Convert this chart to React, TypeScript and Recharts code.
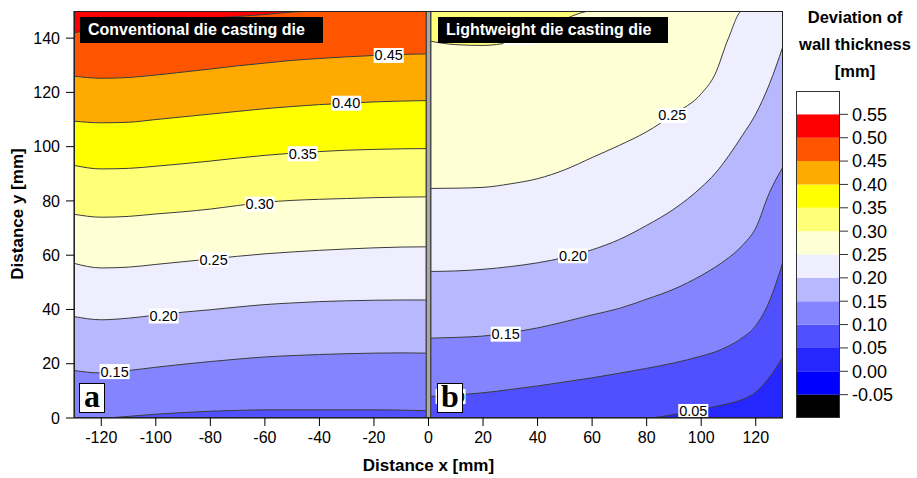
import React from 'react';
import {
    ComposedChart,
    Area,
    XAxis,
    YAxis,
    Scatter,
    ReferenceLine,
    Label,
    BarChart,
    Bar,
} from 'recharts';

// Panel a (conventional die): contour lines y(x) for each level, x = -130..0
const xA = [-130, -120, -110, -100, -90, -80, -70, -60, -50, -40, -30, -20, -10, 0];
const a50 = [142, 143.5, 144.5, 145.5, 146.5, 147.3, 148, 148.7, 149.6, 150, 150, 150, 150, 150];
const a45 = [126, 125.2, 125.5, 126.4, 127.5, 128.6, 129.8, 130.8, 131.8, 132.5, 133.1, 133.6, 134, 134.2];
const a40 = [109.4, 108.8, 109, 110, 111, 112, 113, 114, 114.8, 115.5, 116, 116.5, 116.8, 117];
const a35 = [93.1, 91.8, 92, 92.8, 93.7, 94.7, 95.8, 96.8, 97.6, 98.2, 98.7, 99, 99.2, 99.3];
const a30 = [75.1, 74, 74.3, 75.2, 76, 77, 78.3, 79.5, 80.2, 80.6, 80.9, 81.2, 81.4, 81.5];
const a25 = [57, 55.3, 55.6, 56.6, 57.6, 58.6, 59.6, 60.5, 61.2, 61.8, 62.3, 62.7, 63, 63.1];
const a20 = [37.4, 36.2, 36.8, 37.9, 39, 39.9, 40.9, 41.8, 42.4, 42.9, 43.2, 43.4, 43.5, 43.5];
const a15 = [17.5, 16.6, 17.5, 18.7, 19.8, 20.8, 21.7, 22.5, 23, 23.4, 23.7, 23.9, 24, 23.9];
const a10 = [0, 0, 0.6, 1.4, 2, 2.5, 2.8, 3, 3, 3, 3, 3, 2.9, 2.7];

// Panel b (lightweight die): x = 0..130
const xB = [0, 10, 20, 30, 40, 50, 60, 70, 80, 90, 100, 105, 110, 115, 120, 125, 130];
const b30 = [139, 137.6, 137.3, 138.5, 141.5, 147, 150, 150, 150, 150, 150, 150, 150, 150, 150, 150, 150];
const b25 = [84.6, 84.7, 85, 86.3, 88.2, 91.5, 96, 100.5, 105.5, 112, 119.5, 126.5, 140, 150, 150, 150, 150];
const b20 = [54, 54.2, 54.8, 55.8, 57.2, 59.2, 62, 65.8, 71, 77, 85, 90, 96.5, 104, 112, 123, 137];
const b15 = [29.4, 29.7, 30.2, 31.5, 33.2, 35.5, 38, 40.4, 43.8, 47.5, 52.5, 55.5, 59, 63.5, 70, 83, 92.5];
const b10 = [7.9, 8.5, 9.3, 10.5, 11.8, 13.3, 14.8, 16.5, 18.3, 20.3, 22.8, 24.3, 26.5, 29.5, 34, 43, 57.6];
const b05 = [0, 0, 0, 0, 0, 0, 0, 0, 0, 1.3, 3, 4.2, 5.3, 6.8, 9.5, 15, 22.6];

const yMax = 150;

// contour labels
const contourLabels = [
    { x: -14.6, y: 133.6, text: '0.45' },
    { x: -30.2, y: 116, text: '0.40' },
    { x: -46.1, y: 97.4, text: '0.35' },
    { x: -61.9, y: 78.8, text: '0.30' },
    { x: -78.8, y: 58.4, text: '0.25' },
    { x: -97.1, y: 37.6, text: '0.20' },
    { x: -115.1, y: 17.1, text: '0.15' },
    { x: 33, y: 140.3, text: '0.30' },
    { x: 89.4, y: 111.5, text: '0.25' },
    { x: 53, y: 59.8, text: '0.20' },
    { x: 28.3, y: 30.9, text: '0.15' },
    { x: 8.1, y: 7.9, text: '0.10' },
    { x: 97.1, y: 2.4, text: '0.05' },
];

// colour scale: band edges and fills, bottom to top
const cbEdges = [-0.1, -0.05, 0, 0.05, 0.1, 0.15, 0.2, 0.25, 0.3, 0.35, 0.4, 0.45, 0.5, 0.55, 0.6];
const cbColors = [
    '#000000', '#0000ff', '#2626ff', '#5050ff', '#8484ff', '#b8b8ff', '#eeeeff',
    '#ffffd5', '#ffff78', '#ffff00', '#ffaa00', '#ff5500', '#ff0000', '#ffffff',
];
const cbTicks = [-0.05, 0, 0.05, 0.1, 0.15, 0.2, 0.25, 0.3, 0.35, 0.4, 0.45, 0.5, 0.55];

const xTicks = [-120, -100, -80, -60, -40, -20, 0, 20, 40, 60, 80, 100, 120];
const yTicks = [0, 20, 40, 60, 80, 100, 120, 140];

// band colour below each contour (value just under the level)
function bandColor(level: number): string {
    const i = cbEdges.findIndex((e) => Math.abs(e - level) < 1e-6);
    return cbColors[i - 1];
}

const seriesA: { key: string; ys: number[]; level: number }[] = [
    { key: 'a50', ys: a50, level: 0.5 },
    { key: 'a45', ys: a45, level: 0.45 },
    { key: 'a40', ys: a40, level: 0.4 },
    { key: 'a35', ys: a35, level: 0.35 },
    { key: 'a30', ys: a30, level: 0.3 },
    { key: 'a25', ys: a25, level: 0.25 },
    { key: 'a20', ys: a20, level: 0.2 },
    { key: 'a15', ys: a15, level: 0.15 },
    { key: 'a10', ys: a10, level: 0.1 },
];
const seriesB: { key: string; ys: number[]; level: number }[] = [
    { key: 'b30', ys: b30, level: 0.3 },
    { key: 'b25', ys: b25, level: 0.25 },
    { key: 'b20', ys: b20, level: 0.2 },
    { key: 'b15', ys: b15, level: 0.15 },
    { key: 'b10', ys: b10, level: 0.1 },
    { key: 'b05', ys: b05, level: 0.05 },
];

function buildRows() {
    const map = new Map<number, Record<string, number>>();
    const put = (xs: number[], key: string, ys: number[]) => {
        xs.forEach((x, i) => {
            const row = map.get(x) ?? { x };
            row[key] = ys[i];
            map.set(x, row);
        });
    };
    put(xA, 'aTop', xA.map(() => yMax));
    put(xB, 'bTop', xB.map(() => yMax));
    seriesA.forEach((s) => put(xA, s.key, s.ys));
    seriesB.forEach((s) => put(xB, s.key, s.ys));
    return [...map.values()].sort((p, q) => p.x - q.x);
}

const rows = buildRows();

const cbRow: Record<string, number | string> = { name: 'scale' };
const cbBands = cbColors.map((color, i) => {
    const lo = cbEdges[i];
    const hi = cbEdges[i + 1];
    const key = `band${i}`;
    cbRow[key] = hi <= 0 ? lo - hi : hi - lo;
    return { key, color, mid: (lo + hi) / 2 };
});
// stack outward from zero so negative bands sit in the right order
const cbOrdered = [...cbBands].sort((p, q) => Math.abs(p.mid) - Math.abs(q.mid));

const lineColor = '#3c3c3c';
const font = '"Liberation Sans", Arial, sans-serif';

function ContourLabel(props: any) {
    const { cx, cy, payload } = props;
    if (cx == null || cy == null) return null;
    const w = 30;
    const h = 15;
    return (
        <g>
            <rect x={cx - w / 2} y={cy - h / 2} width={w} height={h} fill="#fff" />
            <text
                x={cx}
                y={cy + 5}
                textAnchor="middle"
                fontSize={14.5}
                fontFamily={font}
                fill="#000"
            >
                {payload.text}
            </text>
        </g>
    );
}

const titleBox: React.CSSProperties = {
    position: 'absolute',
    top: 17,
    height: 26,
    lineHeight: '26px',
    background: '#000',
    color: '#fff',
    fontWeight: 'bold',
    fontSize: 16,
    paddingLeft: 8,
    boxSizing: 'border-box',
    whiteSpace: 'nowrap',
};

const panelBox: React.CSSProperties = {
    position: 'absolute',
    top: 383,
    width: 26,
    height: 30,
    border: '1px solid #000',
    boxSizing: 'border-box',
    background: '#fff',
    fontFamily: '"Liberation Serif", "Times New Roman", serif',
    fontWeight: 'bold',
    fontSize: 32,
    lineHeight: '25px',
    textAlign: 'center',
};

export default function App() {
    return (
        <div
            style={{
                position: 'absolute',
                left: 0,
                top: 0,
                width: 917,
                height: 478,
                background: '#fff',
                fontFamily: font,
                color: '#000',
            }}
        >
            <ComposedChart
                width={790}
                height={478}
                data={rows}
                margin={{ top: 11, right: 7, bottom: 30, left: 30 }}
            >
                <XAxis
                    dataKey="x"
                    type="number"
                    domain={[-130, 130]}
                    allowDataOverflow
                    ticks={xTicks}
                    interval={0}
                    height={30}
                    tickSize={8}
                    tickMargin={6}
                    stroke="#000"
                    tick={{ fontSize: 16, fill: '#000', fontFamily: font }}
                >
                    <Label
                        value="Distance x [mm]"
                        position="bottom"
                        offset={11}
                        style={{ fontWeight: 'bold', fontSize: 17, fill: '#000', fontFamily: font }}
                    />
                </XAxis>
                <YAxis
                    type="number"
                    domain={[0, yMax]}
                    allowDataOverflow
                    ticks={yTicks}
                    interval={0}
                    width={44}
                    tickSize={8}
                    tickMargin={6}
                    stroke="#000"
                    tick={{ fontSize: 16, fill: '#000', fontFamily: font }}
                />
                <Area
                    dataKey="aTop"
                    type="linear"
                    fill={bandColor(0.55)}
                    fillOpacity={1}
                    stroke="none"
                    dot={false}
                    activeDot={false}
                    isAnimationActive={false}
                />
                {seriesA.map((s) => (
                    <Area
                        key={s.key}
                        dataKey={s.key}
                        type="monotone"
                        fill={bandColor(s.level)}
                        fillOpacity={1}
                        stroke={lineColor}
                        strokeWidth={1}
                        dot={false}
                        activeDot={false}
                        isAnimationActive={false}
                    />
                ))}
                <Area
                    dataKey="bTop"
                    type="linear"
                    fill={bandColor(0.35)}
                    fillOpacity={1}
                    stroke="none"
                    dot={false}
                    activeDot={false}
                    isAnimationActive={false}
                />
                {seriesB.map((s) => (
                    <Area
                        key={s.key}
                        dataKey={s.key}
                        type="monotone"
                        fill={bandColor(s.level)}
                        fillOpacity={1}
                        stroke={lineColor}
                        strokeWidth={1}
                        dot={false}
                        activeDot={false}
                        isAnimationActive={false}
                    />
                ))}
                <Scatter
                    data={contourLabels}
                    dataKey="y"
                    shape={ContourLabel}
                    isAnimationActive={false}
                />
                <ReferenceLine x={0} stroke="#4a4a4a" strokeWidth={6} zIndex={700} />
                <ReferenceLine x={0} stroke="#a8a8a8" strokeWidth={3} zIndex={701} />
            </ComposedChart>

            {/* plot frame */}
            <div
                style={{
                    position: 'absolute',
                    left: 74,
                    top: 11,
                    width: 709,
                    height: 407,
                    border: '1px solid #222',
                    boxSizing: 'border-box',
                    pointerEvents: 'none',
                }}
            />

            <div style={{ ...titleBox, left: 80, width: 243 }}>Conventional die casting die</div>
            <div style={{ ...titleBox, left: 438, width: 230 }}>Lightweight die casting die</div>

            <div style={{ ...panelBox, left: 79 }}>a</div>
            <div style={{ ...panelBox, left: 437 }}>b</div>

            <div
                style={{
                    position: 'absolute',
                    left: 17,
                    top: 214,
                    transform: 'translate(-50%, -50%) rotate(-90deg)',
                    fontWeight: 'bold',
                    fontSize: 17,
                    lineHeight: '17px',
                    whiteSpace: 'nowrap',
                }}
            >
                Distance y [mm]
            </div>

            {/* colour scale */}
            <div
                style={{
                    position: 'absolute',
                    left: 783,
                    width: 144,
                    top: 4,
                    textAlign: 'center',
                    fontWeight: 'bold',
                    fontSize: 16.5,
                    lineHeight: '27px',
                }}
            >
                Deviation of
                <br />
                wall thickness
                <br />
                [mm]
            </div>
            <div style={{ position: 'absolute', left: 780, top: 85 }}>
                <BarChart
                    width={137}
                    height={340}
                    data={[cbRow]}
                    stackOffset="sign"
                    barCategoryGap={0}
                    margin={{ top: 6, right: 0, bottom: 7, left: 16 }}
                >
                    <XAxis dataKey="name" hide />
                    <YAxis
                        orientation="right"
                        type="number"
                        domain={[-0.1, 0.6]}
                        allowDataOverflow
                        ticks={cbTicks}
                        interval={0}
                        tickFormatter={(v: number) => v.toFixed(2)}
                        width={77}
                        axisLine={false}
                        tickSize={8}
                        tickMargin={4}
                        tickLine={{ stroke: '#333' }}
                        tick={{ fontSize: 18, fill: '#000', fontFamily: font }}
                    />
                    {cbOrdered.map((b) => (
                        <Bar
                            key={b.key}
                            dataKey={b.key}
                            stackId="scale"
                            fill={b.color}
                            isAnimationActive={false}
                        />
                    ))}
                </BarChart>
                <div
                    style={{
                        position: 'absolute',
                        left: 16,
                        top: 6,
                        width: 44,
                        height: 327,
                        border: '1px solid #333',
                        boxSizing: 'border-box',
                        pointerEvents: 'none',
                    }}
                />
            </div>
        </div>
    );
}
